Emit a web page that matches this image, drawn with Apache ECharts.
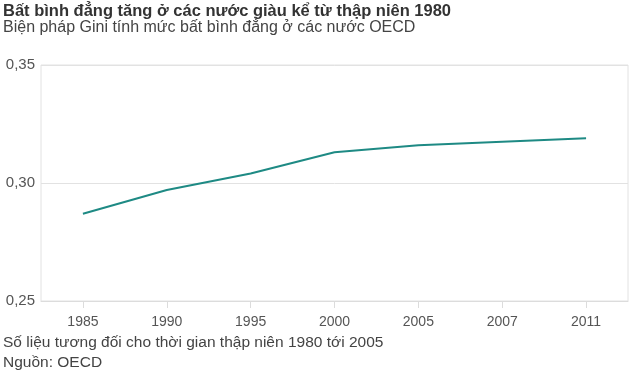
<!DOCTYPE html>
<html><head><meta charset="utf-8">
<script src="https://cdn.jsdelivr.net/npm/echarts@6/dist/echarts.min.js"></script>
<style>html,body{margin:0;padding:0;background:#fff}#c{width:640px;height:374px}</style>
</head><body><div id="c"></div>
<script>
const categories = ['1985','1990','1995','2000','2005','2007','2011'];
const giniValues = [0.287, 0.297, 0.304, 0.313, 0.316, 0.3175, 0.319];
const yTicks = [0.25, 0.30, 0.35];

const font = '"Liberation Sans", Arial, sans-serif';
const chart = echarts.init(document.getElementById('c'), null, {renderer:'canvas'});
chart.setOption({
  animation:false,
  title:[
    {text:'Bất bình đẳng tăng ở các nước giàu kể từ thập niên 1980', left:3, top:2, padding:0,
     textStyle:{fontFamily:font, fontSize:16.5, lineHeight:18, fontWeight:'bold', color:'#333'}},
    {text:'Biện pháp Gini tính mức bất bình đẳng ở các nước OECD', left:3, top:19, padding:0,
     textStyle:{fontFamily:font, fontSize:16, lineHeight:18, fontWeight:'normal', color:'#444'}},
    {text:'Số liệu tương đối cho thời gian thập niên 1980 tới 2005', left:3, top:334, padding:0,
     textStyle:{fontFamily:font, fontSize:15.5, lineHeight:18, fontWeight:'normal', color:'#444'}},
    {text:'Nguồn: OECD', left:3, top:354, padding:0,
     textStyle:{fontFamily:font, fontSize:15.5, lineHeight:18, fontWeight:'normal', color:'#444'}}
  ],
  grid:{left:41, right:12, top:65, bottom:73, show:true, borderColor:'#e2e2e2', borderWidth:1, containLabel:false},
  xAxis:{type:'category', data:categories, boundaryGap:true,
    axisLine:{show:true, lineStyle:{color:'#dcdcdc'}},
    axisTick:{show:true, alignWithLabel:true, length:7, lineStyle:{color:'#dcdcdc'}},
    axisLabel:{fontFamily:font, fontSize:14, color:'#555', margin:14},
    splitLine:{show:false}},
  yAxis:{type:'value', min:yTicks[0], max:yTicks[yTicks.length-1], interval:0.05,
    axisLine:{show:false}, axisTick:{show:false},
    axisLabel:{fontFamily:font, fontSize:15, color:'#555', margin:6,
      formatter:v=>v.toFixed(2).replace('.',',')},
    splitLine:{show:true, lineStyle:{color:'#e2e2e2'}}},
  series:[{type:'line', data:giniValues, symbol:'none', smooth:false,
    lineStyle:{color:'#1e8a84', width:2}}]
});
</script></body></html>
